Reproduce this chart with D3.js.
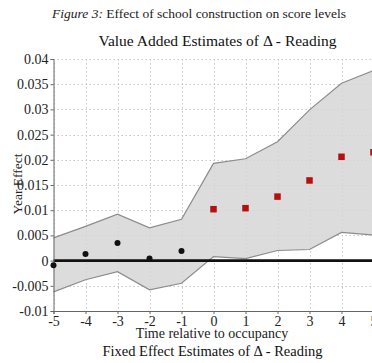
<!DOCTYPE html>
<html>
<head>
<meta charset="utf-8">
<script src="https://cdn.jsdelivr.net/npm/d3@7"></script>
<style>
  html, body { margin: 0; padding: 0; background: #fff; }
  svg { display: block; font-family: "Liberation Serif", "Times New Roman", serif; }
</style>
</head>
<body>
<svg id="chart" width="372" height="363"></svg>
<script>
// Event-time periods relative to school occupancy
const periods = [-5, -4, -3, -2, -1, 0, 1, 2, 3, 4, 5];
// Point estimates of the yearly effect
const estimates = [-0.0009, 0.0013, 0.0035, 0.0004, 0.0019, 0.0102, 0.0104, 0.0127, 0.0159, 0.0206, 0.0215];
// 95% confidence band
const upperCI = [0.0045, 0.0068, 0.0092, 0.0065, 0.0082, 0.0193, 0.0202, 0.0236, 0.0299, 0.0352, 0.0377];
const lowerCI = [-0.0062, -0.0038, -0.0022, -0.0058, -0.0045, 0.0008, 0.0004, 0.0020, 0.0022, 0.0056, 0.0051];
// Axis ticks
const yTicks = [-0.01, -0.005, 0, 0.005, 0.01, 0.015, 0.02, 0.025, 0.03, 0.035, 0.04];
const yTickLabels = ["-0.01", "-0.005", "0", "0.005", "0.01", "0.015", "0.02", "0.025", "0.03", "0.035", "0.04"];

const rows = periods.map((p, i) => ({ p, est: estimates[i], hi: upperCI[i], lo: lowerCI[i] }));

const svg = d3.select("#chart");
const plotLeft = 53.5, plotRight = 373.5, plotTop = 59, plotBottom = 311;

const x = d3.scaleLinear().domain([-5, 5]).range([plotLeft, plotRight]);
const y = d3.scaleLinear().domain([-0.01, 0.04]).range([plotBottom, plotTop]);

// Titles
const t1 = svg.append("text").attr("x", 199).attr("y", 18).attr("text-anchor", "middle")
  .style("font-size", "13.5px").attr("fill", "#222");
t1.append("tspan").style("font-style", "italic").text("Figure 3:");
t1.append("tspan").text(" Effect of school construction on score levels");

svg.append("text").attr("x", 217.5).attr("y", 46).attr("text-anchor", "middle")
  .style("font-size", "15.5px").attr("fill", "#111")
  .text("Value Added Estimates of \u0394 - Reading");

// Dotted grid
const grid = svg.append("g").attr("stroke", "#c8c8c8").attr("stroke-width", 1)
  .attr("stroke-dasharray", "1.5,2.5");
grid.selectAll("line.h").data(yTicks).join("line").attr("class", "h")
  .attr("x1", plotLeft).attr("x2", plotRight)
  .attr("y1", d => Math.round(y(d)) + 0.5).attr("y2", d => Math.round(y(d)) + 0.5);
grid.selectAll("line.v").data(periods).join("line").attr("class", "v")
  .attr("y1", plotTop).attr("y2", plotBottom)
  .attr("x1", d => Math.round(x(d)) + 0.5).attr("x2", d => Math.round(x(d)) + 0.5);

// Confidence band
const area = d3.area().x(d => x(d.p)).y0(d => y(d.lo)).y1(d => y(d.hi));
svg.append("path").datum(rows).attr("d", area)
  .attr("fill", "#d6d6d6").attr("fill-opacity", 0.85);
svg.append("path").datum(rows).attr("fill", "none").attr("stroke", "#8c8c8c").attr("stroke-width", 1.2)
  .attr("d", d3.line().x(d => x(d.p)).y(d => y(d.hi)));
svg.append("path").datum(rows).attr("fill", "none").attr("stroke", "#8c8c8c").attr("stroke-width", 1.2)
  .attr("d", d3.line().x(d => x(d.p)).y(d => y(d.lo)));

// Zero reference line
svg.append("line").attr("x1", plotLeft).attr("x2", plotRight)
  .attr("y1", y(0)).attr("y2", y(0)).attr("stroke", "#111").attr("stroke-width", 2.6);

// Axes
const yAxis = d3.axisLeft(y).tickValues(yTicks)
  .tickFormat((d, i) => yTickLabels[i]).tickSize(3).tickPadding(2);
const gy = svg.append("g").attr("transform", `translate(${plotLeft},0)`).call(yAxis);
gy.select(".domain").attr("stroke", "#666");
gy.selectAll(".tick line").attr("stroke", "#666");
gy.selectAll("text").style("font-size", "14px").attr("fill", "#222")
  .style("font-family", "'Liberation Serif', serif");

const xAxis = d3.axisBottom(x).tickValues(periods).tickFormat(d3.format("d"))
  .tickSize(3).tickPadding(2);
const gx = svg.append("g").attr("transform", `translate(0,${plotBottom})`).call(xAxis);
gx.select(".domain").attr("stroke", "#666");
gx.selectAll(".tick line").attr("stroke", "#666");
gx.selectAll("text").style("font-size", "14px").attr("fill", "#222")
  .style("font-family", "'Liberation Serif', serif")
  .text(d => d < 0 ? "-" + Math.abs(d) : d);

// Pre-occupancy estimates (black dots)
svg.selectAll("circle.pre").data(rows.filter(d => d.p < 0)).join("circle").attr("class", "pre")
  .attr("cx", d => x(d.p)).attr("cy", d => y(d.est)).attr("r", 3).attr("fill", "#111");

// Post-occupancy estimates (red squares)
const s = 6.5;
svg.selectAll("rect.post").data(rows.filter(d => d.p >= 0)).join("rect").attr("class", "post")
  .attr("x", d => x(d.p) - s / 2).attr("y", d => y(d.est) - s / 2)
  .attr("width", s).attr("height", s).attr("fill", "#b3100f");

// Axis titles
svg.append("text").attr("transform", "translate(22,184) rotate(-90)").attr("text-anchor", "middle")
  .style("font-size", "13.5px").attr("fill", "#222").text("Year Effect");
svg.append("text").attr("x", 212).attr("y", 338).attr("text-anchor", "middle")
  .style("font-size", "14px").attr("fill", "#222").text("Time relative to occupancy");
svg.append("text").attr("x", 212.5).attr("y", 356).attr("text-anchor", "middle")
  .style("font-size", "14.5px").attr("fill", "#111")
  .text("Fixed Effect Estimates of \u0394 - Reading");
</script>
</body>
</html>
